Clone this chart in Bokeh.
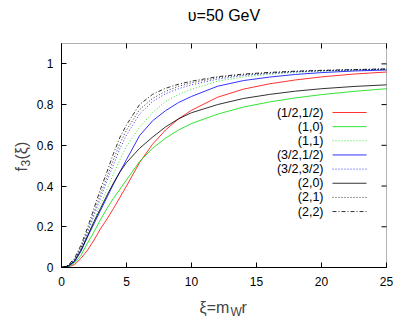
import math
from bokeh.plotting import figure
from bokeh.models import (Range1d, FixedTicker, Label, LinearAxis, BoxAnnotation,
                          CustomJSTickFormatter, ColumnDataSource)
from bokeh.embed import file_html
from bokeh.resources import INLINE

# ---- data ----
xi = [0, 0.5, 1, 1.5, 2, 2.5, 3, 3.5, 4, 4.5, 5, 6, 7, 8, 9, 10, 12, 14, 16, 18, 20, 22.5, 25]

f_half_half = [0, 0.003, 0.014, 0.045, 0.085, 0.135, 0.19, 0.238, 0.29, 0.345, 0.40, 0.515, 0.605, 0.675, 0.73, 0.772, 0.836, 0.876, 0.902, 0.921, 0.936, 0.95, 0.96]
f_1_0 = [0, 0.005, 0.022, 0.06, 0.12, 0.175, 0.235, 0.29, 0.34, 0.385, 0.43, 0.52, 0.585, 0.635, 0.675, 0.707, 0.753, 0.788, 0.813, 0.833, 0.849, 0.865, 0.878]
f_1_1 = [0, 0.007, 0.033, 0.085, 0.155, 0.23, 0.31, 0.385, 0.46, 0.53, 0.595, 0.688, 0.76, 0.815, 0.85, 0.875, 0.915, 0.936, 0.949, 0.958, 0.964, 0.969, 0.973]
f_3h_1h = [0, 0.006, 0.028, 0.08, 0.15, 0.215, 0.28, 0.345, 0.41, 0.47, 0.53, 0.647, 0.72, 0.77, 0.81, 0.84, 0.89, 0.918, 0.935, 0.948, 0.957, 0.965, 0.970]
f_3h_3h = [0, 0.008, 0.037, 0.095, 0.17, 0.255, 0.34, 0.425, 0.505, 0.585, 0.65, 0.753, 0.815, 0.853, 0.878, 0.897, 0.925, 0.943, 0.953, 0.961, 0.966, 0.970, 0.974]
f_2_0 = [0, 0.007, 0.032, 0.085, 0.155, 0.225, 0.29, 0.355, 0.415, 0.47, 0.515, 0.585, 0.64, 0.69, 0.73, 0.76, 0.80, 0.83, 0.85, 0.866, 0.878, 0.889, 0.897]
f_2_1 = [0, 0.009, 0.04, 0.1, 0.18, 0.27, 0.36, 0.445, 0.53, 0.61, 0.675, 0.775, 0.83, 0.865, 0.89, 0.907, 0.932, 0.947, 0.956, 0.963, 0.967, 0.971, 0.975]
f_2_2 = [0, 0.01, 0.045, 0.11, 0.195, 0.29, 0.385, 0.47, 0.56, 0.64, 0.70, 0.80, 0.85, 0.88, 0.90, 0.915, 0.937, 0.95, 0.958, 0.964, 0.968, 0.972, 0.975]

series_labels = ["(1/2,1/2)", "(1,0)", "(1,1)", "(3/2,1/2)", "(3/2,3/2)", "(2,0)", "(2,1)", "(2,2)"]
series_values = [f_half_half, f_1_0, f_1_1, f_3h_1h, f_3h_3h, f_2_0, f_2_1, f_2_2]
series_colors = ["#ff0000", "#00dd00", "#00dd00", "#0000ff", "#0000ff", "#000000", "#000000", "#000000"]
series_dash = ["solid", "solid", "1 2", "solid", "1 2", "solid", "1 2", "4 2 1 2"]

x_ticks = [0, 5, 10, 15, 20, 25]
y_ticks = [0, 0.2, 0.4, 0.6, 0.8, 1]
title_text = "\u03c5=50 GeV"

FONT = "Liberation Sans"
X0, X1, Y0, Y1 = 0, 25, 0, 1.1

# page geometry (pixels) of the plot box
W, H = 409, 327
BL, BR, BT, BB = 61, 386, 43, 267
SX = (BR - BL) / (X1 - X0)
SY = (BB - BT) / (Y1 - Y0)

def dx(px):
    return X0 + (px - BL) / SX

def dy(py):
    return Y0 + (BB - py) / SY

p = figure(width=W, height=H, output_backend="svg", toolbar_location=None,
           x_range=Range1d(dx(0), dx(W)), y_range=Range1d(dy(H), dy(0)),
           x_axis_location=None, y_axis_location=None,
           min_border_left=0, min_border_right=0, min_border_top=0, min_border_bottom=0)
p.background_fill_color = "white"
p.border_fill_color = "white"
p.outline_line_color = None
p.grid.visible = False

# plot box
p.add_layout(BoxAnnotation(left=X0, right=X1, bottom=Y0, top=Y1, fill_alpha=0,
                           line_color="black", line_width=1))

xax = LinearAxis(fixed_location=Y0, bounds=(X0, X1), ticker=FixedTicker(ticks=x_ticks))
yax = LinearAxis(fixed_location=X0, bounds=(Y0, Y1), ticker=FixedTicker(ticks=y_ticks),
                 formatter=CustomJSTickFormatter(code="return String(Math.round(tick*10)/10)"))
for ax in (xax, yax):
    ax.axis_line_color = "black"
    ax.major_tick_line_color = "black"
    ax.major_tick_in = 5
    ax.major_tick_out = 0
    ax.minor_tick_line_color = None
    ax.major_label_text_font = FONT
    ax.major_label_text_font_size = "12px"
    ax.major_label_text_color = "black"
xax.major_label_standoff = 9
yax.major_label_standoff = 8
p.add_layout(xax, "below")
p.add_layout(yax, "left")

# mirrored ticks on the top and right borders (gnuplot style)
p.segment(x0=x_ticks, y0=[Y1] * len(x_ticks), x1=x_ticks, y1=[Y1 - 5 / SY] * len(x_ticks),
          line_color="black", line_width=1)
p.segment(x0=[X1] * len(y_ticks), y0=y_ticks, x1=[X1 - 5 / SX] * len(y_ticks), y1=y_ticks,
          line_color="black", line_width=1)

# curves
for vals, col, dash in zip(series_values, series_colors, series_dash):
    src = ColumnDataSource(dict(x=xi, y=vals))
    p.line("x", "y", source=src, line_color=col, line_width=1, line_dash=dash, line_alpha=0.8)

# gnuplot-style key: text right-aligned, sample line to its right
for i, (lab, col, dash) in enumerate(zip(series_labels, series_colors, series_dash)):
    yy = dy(112 + 14.15 * i)
    p.add_layout(Label(x=dx(323), y=yy, text=lab, text_font=FONT, text_font_size="12.5px",
                       text_align="right", text_baseline="middle", text_color="black"))
    p.line([dx(332), dx(366)], [yy, yy], line_color=col, line_width=1,
           line_dash=dash, line_alpha=0.8)

# title
p.add_layout(Label(x=(X0 + X1) / 2, y=dy(15), text=title_text, text_font=FONT, text_font_size="16px",
                   text_align="center", text_baseline="middle", text_color="black"))

# x axis label  xi = m_W r
xa, ya = dx(199), dy(306.5)
p.add_layout(Label(x=xa, y=ya, text="\u03be=m", text_font=FONT, text_font_size="16px",
                   text_baseline="alphabetic", text_align="left"))
p.add_layout(Label(x=xa, y=ya, x_offset=31, y_offset=-5, text="W", text_font=FONT, text_font_size="12px",
                   text_baseline="alphabetic", text_align="left"))
p.add_layout(Label(x=xa, y=ya, x_offset=42, text="r", text_font=FONT, text_font_size="16px",
                   text_baseline="alphabetic", text_align="left"))

# y axis label  f_3(xi)
yx, yy0 = dx(21), dy(171)
p.add_layout(Label(x=yx, y=yy0, angle=math.pi / 2, text="f", text_font=FONT, text_font_size="16px",
                   text_baseline="alphabetic", text_align="left"))
p.add_layout(Label(x=yx, y=yy0, angle=math.pi / 2, x_offset=4, y_offset=5, text="3", text_font=FONT,
                   text_font_size="12px", text_baseline="alphabetic", text_align="left"))
p.add_layout(Label(x=yx, y=yy0, angle=math.pi / 2, y_offset=12, text="(\u03be)", text_font=FONT,
                   text_font_size="16px", text_baseline="alphabetic", text_align="left"))

open("out.html", "w").write(file_html(p, INLINE))
